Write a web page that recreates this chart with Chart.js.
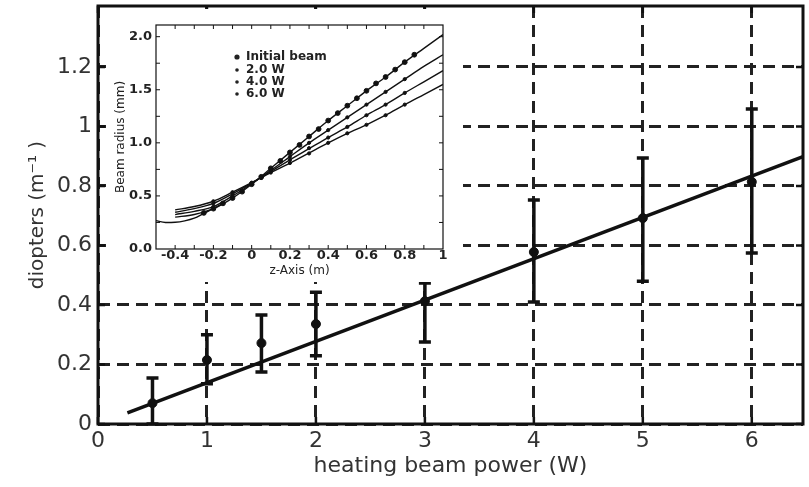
<!DOCTYPE html>
<html>
<head>
<meta charset="utf-8">
<script src="https://cdn.jsdelivr.net/npm/chart.js@4.4.1/dist/chart.umd.min.js"></script>
<style>
  html, body { margin: 0; padding: 0; background: #fff; }
  #wrap { position: relative; width: 809px; height: 487px; }
  #main { position: absolute; left: 0; top: 0; }
  #inset { position: absolute; left: 106px; top: 9px; background: #fff; }
</style>
</head>
<body>
<div id="wrap">
  <canvas id="main" width="809" height="487"></canvas>
  <canvas id="inset" width="357" height="273"></canvas>
</div>
<script>
// main plot: lens power vs heating beam power
const powerW   = [0.5, 1, 1.5, 2, 3, 4, 5, 6];
const diopters = [0.07, 0.215, 0.272, 0.336, 0.413, 0.578, 0.692, 0.814];
const diopLow  = [0, 0.135, 0.175, 0.229, 0.276, 0.41, 0.48, 0.575];
const diopHigh = [0.155, 0.30, 0.366, 0.443, 0.474, 0.753, 0.894, 1.059];
const fitX = [0.27, 6.47];
const fitY = [0.0375, 0.899];
const powerTicks = [0, 1, 2, 3, 4, 5, 6];
const diopTicks  = [0, 0.2, 0.4, 0.6, 0.8, 1, 1.2];

// inset: beam radius along z
const zCurve   = [-0.4, -0.3, -0.2, -0.1, 0, 0.1, 0.2, 0.3, 0.4, 0.5, 0.6, 0.7, 0.8, 0.9, 1.0];
const rInitial = [0.30, 0.325, 0.38, 0.48, 0.61, 0.76, 0.91, 1.06, 1.21, 1.35, 1.49, 1.62, 1.76, 1.89, 2.02];
const r2W      = [0.324, 0.355, 0.40, 0.50, 0.615, 0.74, 0.87, 1.00, 1.12, 1.24, 1.36, 1.48, 1.60, 1.72, 1.83];
const r4W      = [0.346, 0.38, 0.43, 0.52, 0.62, 0.73, 0.84, 0.945, 1.05, 1.15, 1.26, 1.36, 1.47, 1.575, 1.68];
const r6W      = [0.368, 0.40, 0.45, 0.535, 0.625, 0.72, 0.81, 0.905, 1.00, 1.09, 1.17, 1.26, 1.36, 1.455, 1.55];
const zWaist = [-0.5, -0.45, -0.4, -0.35, -0.3, -0.25, -0.2, -0.15];
const rWaist = [0.267, 0.25, 0.252, 0.265, 0.29, 0.335, 0.38, 0.43];

const zInitPts = [-0.25, -0.2, -0.15, -0.1, -0.05, 0, 0.05, 0.1, 0.15, 0.2, 0.25, 0.3, 0.35, 0.4, 0.45, 0.5, 0.55, 0.6, 0.65, 0.7, 0.75, 0.8, 0.85];
const rInitPts = [0.34, 0.38, 0.43, 0.48, 0.54, 0.61, 0.68, 0.76, 0.83, 0.91, 0.98, 1.06, 1.13, 1.21, 1.28, 1.35, 1.42, 1.49, 1.56, 1.62, 1.69, 1.76, 1.83];
const zPts = [-0.2, -0.1, 0, 0.05, 0.1, 0.2, 0.3, 0.4, 0.5, 0.6, 0.7, 0.8];
const r2WPts = [0.40, 0.50, 0.62, 0.67, 0.74, 0.87, 1.00, 1.12, 1.24, 1.36, 1.48, 1.60];
const r4WPts = [0.43, 0.52, 0.62, 0.67, 0.73, 0.84, 0.95, 1.05, 1.15, 1.26, 1.36, 1.47];
const r6WPts = [0.45, 0.535, 0.625, 0.67, 0.72, 0.81, 0.90, 1.00, 1.09, 1.17, 1.26, 1.36];

const legendLabels = ['Initial beam', '2.0 W', '4.0 W', '6.0 W'];
const zTicks = [-0.4, -0.2, 0, 0.2, 0.4, 0.6, 0.8, 1];
const zMinor = [-0.4, -0.3, -0.2, -0.1, 0, 0.1, 0.2, 0.3, 0.4, 0.5, 0.6, 0.7, 0.8, 0.9];
const rTicks = [0, 0.5, 1, 1.5, 2];
const rMinor = [0.25, 0.5, 0.75, 1, 1.25, 1.5, 1.75, 2];

const pairs = (xs, ys) => xs.map((x, i) => ({ x: x, y: ys[i] }));
const setTicks = arr => s => { s.ticks = arr.map(v => ({ value: v })); };

function inwardTicks(chart, xs, ys, len, width) {
    const { ctx, chartArea: a, scales } = chart;
    ctx.save();
    ctx.strokeStyle = '#111';
    ctx.lineWidth = width;
    ctx.beginPath();
    xs.forEach(v => {
        const px = scales.x.getPixelForValue(v);
        ctx.moveTo(px, a.bottom); ctx.lineTo(px, a.bottom - len);
        ctx.moveTo(px, a.top); ctx.lineTo(px, a.top + len);
    });
    ys.forEach(v => {
        const py = scales.y.getPixelForValue(v);
        ctx.moveTo(a.left, py); ctx.lineTo(a.left + len, py);
        ctx.moveTo(a.right, py); ctx.lineTo(a.right - len, py);
    });
    ctx.stroke();
    ctx.restore();
}

const mainDecor = {
    id: 'mainDecor',
    afterDatasetsDraw(chart) {
        const { ctx, scales } = chart;
        ctx.save();
        ctx.strokeStyle = '#111';
        ctx.lineWidth = 3.5;
        ctx.beginPath();
        powerW.forEach((p, i) => {
            const px = scales.x.getPixelForValue(p);
            const lo = scales.y.getPixelForValue(diopLow[i]);
            const hi = scales.y.getPixelForValue(diopHigh[i]);
            ctx.moveTo(px, lo); ctx.lineTo(px, hi);
            ctx.moveTo(px - 6, lo); ctx.lineTo(px + 6, lo);
            ctx.moveTo(px - 6, hi); ctx.lineTo(px + 6, hi);
        });
        ctx.stroke();
        ctx.restore();
    },
    afterDraw(chart) {
        const { ctx, chartArea: a } = chart;
        inwardTicks(chart, powerTicks, diopTicks, 7, 2.5);
        ctx.save();
        ctx.strokeStyle = '#111';
        ctx.lineWidth = 3;
        ctx.strokeRect(a.left, a.top, a.right - a.left, a.bottom - a.top);
        ctx.restore();
    }
};

new Chart(document.getElementById('main'), {
    data: {
        datasets: [
            {
                type: 'line',
                data: pairs(fitX, fitY),
                borderColor: '#111',
                borderWidth: 3.5,
                pointRadius: 0
            },
            {
                type: 'scatter',
                data: pairs(powerW, diopters),
                backgroundColor: '#111',
                borderColor: '#111',
                pointRadius: 4.5
            }
        ]
    },
    options: {
        responsive: false,
        animation: false,
        layout: { padding: { top: 6, right: 6, left: 0, bottom: 0 } },
        plugins: { legend: { display: false }, tooltip: { enabled: false } },
        scales: {
            x: {
                type: 'linear',
                min: 0,
                max: 6.47,
                afterBuildTicks: setTicks(powerTicks),
                afterFit: s => { s.height = 63; s.paddingLeft = 0; s.paddingRight = 0; },
                grid: { color: '#222', lineWidth: 3, drawTicks: false },
                border: { display: false, dash: [12, 7] },
                ticks: { padding: 4, color: '#333', font: { family: 'DejaVu Sans', size: 22 }, callback: v => String(v) },
                title: {
                    display: true,
                    text: 'heating beam power (W)',
                    color: '#333',
                    font: { family: 'DejaVu Sans', size: 22 },
                    padding: { top: 0, bottom: 8 }
                }
            },
            y: {
                type: 'linear',
                min: 0,
                max: 1.405,
                afterBuildTicks: setTicks(diopTicks),
                afterFit: s => { s.width = 98; s.paddingTop = 0; s.paddingBottom = 0; },
                grid: { color: '#222', lineWidth: 3, drawTicks: false },
                border: { display: false, dash: [12, 7] },
                ticks: { padding: 6, color: '#333', font: { family: 'DejaVu Sans', size: 22 }, callback: v => String(v) },
                title: {
                    display: true,
                    text: 'diopters (m\u207B\u00B9 )',
                    color: '#333',
                    font: { family: 'DejaVu Sans', size: 20 },
                    padding: { top: 26, bottom: 0 }
                }
            }
        }
    },
    plugins: [mainDecor]
});

const insetDecor = {
    id: 'insetDecor',
    afterDraw(chart) {
        const { ctx, chartArea: a } = chart;
        inwardTicks(chart, zMinor, rMinor, 4, 1);
        ctx.save();
        ctx.strokeStyle = '#111';
        ctx.lineWidth = 1.2;
        ctx.strokeRect(a.left, a.top, a.right - a.left, a.bottom - a.top);
        // legend
        const rows = [32, 45, 57, 69];
        const radii = [2.6, 1.8, 1.8, 1.8];
        ctx.fillStyle = '#222';
        ctx.font = 'bold 12px "DejaVu Sans"';
        ctx.textBaseline = 'middle';
        legendLabels.forEach((t, i) => {
            const y = a.top + rows[i];
            ctx.beginPath();
            ctx.arc(a.left + 81, y, radii[i], 0, Math.PI * 2);
            ctx.fill();
            ctx.fillText(t, a.left + 90, y);
        });
        ctx.restore();
    }
};

const curve = (xs, ys) => ({
    type: 'line',
    data: pairs(xs, ys),
    borderColor: '#111',
    borderWidth: 1.4,
    pointRadius: 0,
    cubicInterpolationMode: 'monotone'
});
const dots = (xs, ys, r) => ({
    type: 'scatter',
    data: pairs(xs, ys),
    backgroundColor: '#111',
    borderColor: '#111',
    pointRadius: r
});

new Chart(document.getElementById('inset'), {
    data: {
        datasets: [
            curve(zWaist, rWaist),
            curve(zCurve, rInitial),
            curve(zCurve, r2W),
            curve(zCurve, r4W),
            curve(zCurve, r6W),
            dots(zInitPts, rInitPts, 2.4),
            dots(zPts, r2WPts, 1.6),
            dots(zPts, r4WPts, 1.6),
            dots(zPts, r6WPts, 1.6)
        ]
    },
    options: {
        responsive: false,
        animation: false,
        layout: { padding: { top: 16, right: 20, left: 0, bottom: 0 } },
        plugins: { legend: { display: false }, tooltip: { enabled: false } },
        scales: {
            x: {
                type: 'linear',
                min: -0.5,
                max: 1,
                afterBuildTicks: setTicks(zTicks),
                afterFit: s => { s.height = 33; s.paddingLeft = 0; s.paddingRight = 0; },
                grid: { display: false, drawTicks: false },
                border: { display: false },
                ticks: { padding: 0, color: '#222', font: { family: 'DejaVu Sans', size: 13, weight: 'bold', lineHeight: 1 }, callback: v => String(v) },
                title: {
                    display: true,
                    text: 'z-Axis (m)',
                    color: '#222',
                    font: { family: 'DejaVu Sans', size: 12 },
                    padding: { top: 0, bottom: 4 }
                }
            },
            y: {
                type: 'linear',
                min: 0,
                max: 2.11,
                afterBuildTicks: setTicks(rTicks),
                afterFit: s => { s.width = 50; s.paddingTop = 0; s.paddingBottom = 0; },
                grid: { display: false, drawTicks: false },
                border: { display: false },
                ticks: { padding: 4, color: '#222', font: { family: 'DejaVu Sans', size: 13, weight: 'bold' }, callback: v => v.toFixed(1) },
                title: {
                    display: true,
                    text: 'Beam radius (mm)',
                    color: '#222',
                    font: { family: 'DejaVu Sans', size: 12 },
                    padding: { top: 8, bottom: 0 }
                }
            }
        }
    },
    plugins: [insetDecor]
});
</script>
</body>
</html>
